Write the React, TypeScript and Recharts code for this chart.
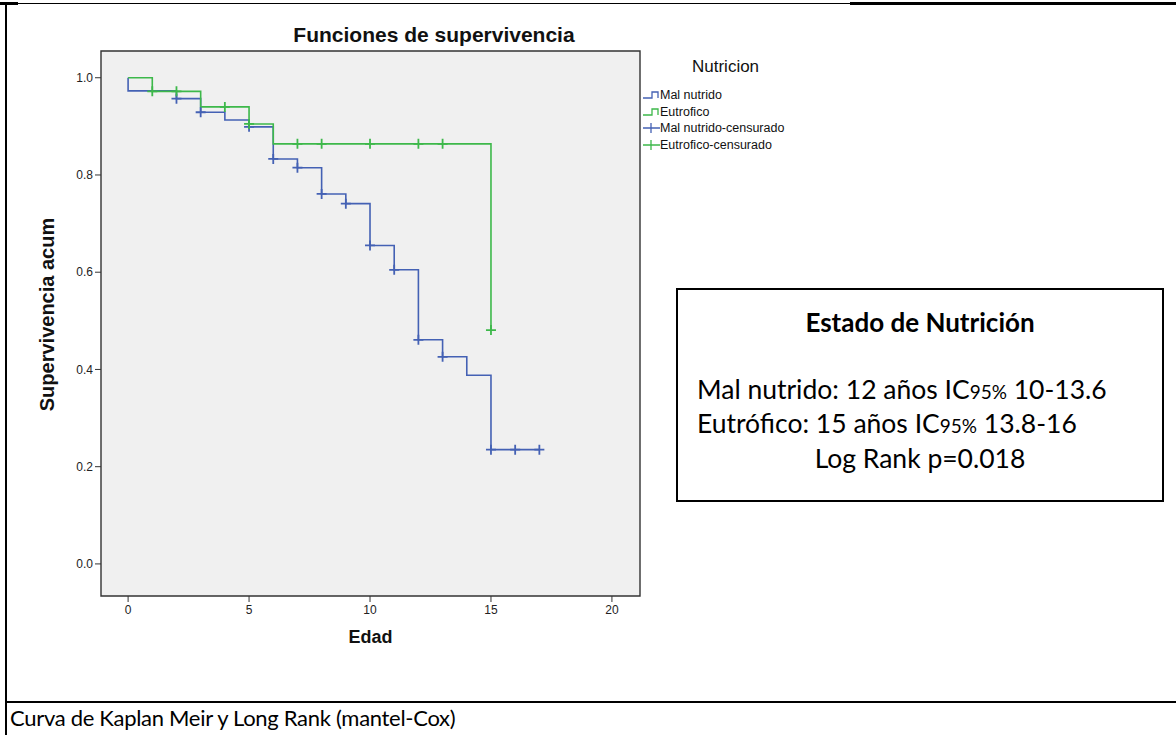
import { CartesianGrid, ComposedChart, Line, ReferenceArea, Scatter, XAxis, YAxis } from 'recharts'

// Kaplan-Meier steps (t = edad, s = supervivencia acumulada)
const malNutridoCurve = [
  { t: 0, s: 1 },
  { t: 0, s: 0.973 },
  { t: 2, s: 0.957 },
  { t: 3, s: 0.929 },
  { t: 4, s: 0.913 },
  { t: 5, s: 0.899 },
  { t: 6, s: 0.833 },
  { t: 7, s: 0.815 },
  { t: 8, s: 0.761 },
  { t: 9, s: 0.741 },
  { t: 10, s: 0.655 },
  { t: 11, s: 0.605 },
  { t: 12, s: 0.461 },
  { t: 13, s: 0.426 },
  { t: 14, s: 0.388 },
  { t: 15, s: 0.235 },
  { t: 17, s: 0.235 },
]

const eutroficoCurve = [
  { t: 0, s: 1 },
  { t: 1, s: 0.972 },
  { t: 3, s: 0.94 },
  { t: 5, s: 0.905 },
  { t: 6, s: 0.864 },
  { t: 15, s: 0.481 },
]

const malNutridoCensored = [
  { t: 2, s: 0.957 },
  { t: 3, s: 0.929 },
  { t: 5, s: 0.899 },
  { t: 6, s: 0.833 },
  { t: 7, s: 0.815 },
  { t: 8, s: 0.761 },
  { t: 9, s: 0.741 },
  { t: 10, s: 0.655 },
  { t: 11, s: 0.605 },
  { t: 12, s: 0.461 },
  { t: 13, s: 0.426 },
  { t: 15, s: 0.235 },
  { t: 16, s: 0.235 },
  { t: 17, s: 0.235 },
]

const eutroficoCensored = [
  { t: 1, s: 0.972 },
  { t: 2, s: 0.972 },
  { t: 4, s: 0.94 },
  { t: 5, s: 0.905 },
  { t: 7, s: 0.864 },
  { t: 8, s: 0.864 },
  { t: 10, s: 0.864 },
  { t: 12, s: 0.864 },
  { t: 13, s: 0.864 },
  { t: 15, s: 0.481 },
]

const xTicks = [0, 5, 10, 15, 20]
const yTicks = [0, 0.2, 0.4, 0.6, 0.8, 1]

const legendTitle = 'Nutricion'
const legendItems = [
  { name: 'Mal nutrido', kind: 'step', color: '#4461b4' },
  { name: 'Eutrofico', kind: 'step', color: '#3db84a' },
  { name: 'Mal nutrido-censurado', kind: 'cross', color: '#4461b4' },
  { name: 'Eutrofico-censurado', kind: 'cross', color: '#3db84a' },
]

const summaryTitle = 'Estado de Nutrición'
const summaryRows = [
  { label: 'Mal nutrido: 12 años IC', sub: '95%', rest: ' 10-13.6' },
  { label: 'Eutrófico: 15 años IC', sub: '95%', rest: ' 13.8-16' },
]
const summaryFooter = 'Log Rank p=0.018'
const caption = 'Curva de Kaplan Meir y Long Rank (mantel-Cox)'

const BLUE = '#4461b4'
const GREEN = '#3db84a'
const AXIS_FONT = '"Liberation Sans", Arial, sans-serif'
const DOC_FONT = 'Lato, "Open Sans", sans-serif'

function crossShape(color: string) {
  return (props: any) => {
    const { cx, cy } = props
    if (cx == null || cy == null) return <g />
    return (
      <path
        d={`M${cx - 5},${cy}H${cx + 5}M${cx},${cy - 5}V${cy + 5}`}
        stroke={color}
        strokeWidth={1.8}
        fill="none"
      />
    )
  }
}

function LegendIcon({ kind, color }: { kind: string; color: string }) {
  if (kind === 'step') {
    return (
      <svg width={18} height={14} style={{ display: 'block' }}>
        <path d="M1,10H10V4H16V10" stroke={color} strokeWidth={1.3} fill="none" />
      </svg>
    )
  }
  return (
    <svg width={18} height={14} style={{ display: 'block' }}>
      <path d="M1,7H18M9,2V12" stroke={color} strokeWidth={1.3} fill="none" />
    </svg>
  )
}

function YAxisTitle({ viewBox }: any) {
  const x = viewBox.x + 6
  const y = viewBox.y + viewBox.height / 2 - 9
  return (
    <text
      x={x}
      y={y}
      transform={`rotate(-90, ${x}, ${y})`}
      textAnchor="middle"
      dominantBaseline="central"
      fontFamily={AXIS_FONT}
      fontWeight="bold"
      fontSize={20}
      fill="#111"
    >
      Supervivencia acum
    </text>
  )
}

export default function App() {
  const tickStyle = { fontSize: 12, fontFamily: AXIS_FONT, fill: '#222' }

  return (
    <div style={{ position: 'absolute', left: 0, top: 0, width: 1176, height: 735, background: '#fff', overflow: 'hidden' }}>
      {/* document table lines */}
      <div style={{ position: 'absolute', left: 6, top: 3, width: 844, height: 1, background: '#000' }} />
      <div style={{ position: 'absolute', left: 850, top: 2, width: 326, height: 3, background: '#000' }} />
      <div style={{ position: 'absolute', left: 0, top: 2, width: 18, height: 3, background: '#000' }} />
      <div style={{ position: 'absolute', left: 5, top: 3, width: 2, height: 732, background: '#000' }} />
      <div style={{ position: 'absolute', left: 5, top: 701, width: 1171, height: 2, background: '#000' }} />

      <div
        style={{
          position: 'absolute',
          left: 234,
          width: 400,
          top: 23,
          textAlign: 'center',
          fontFamily: AXIS_FONT,
          fontWeight: 'bold',
          fontSize: 21,
          color: '#111',
        }}
      >
        Funciones de supervivencia
      </div>

      <div style={{ position: 'absolute', left: 0, top: 0 }}>
        <ComposedChart width={1176} height={735} margin={{ top: 51, right: 536, bottom: 99, left: 41 }}>
          <CartesianGrid fill="#f0f0f0" horizontal={false} vertical={false} />
          <XAxis
            type="number"
            dataKey="t"
            domain={[-1.12, 21.16]}
            ticks={xTicks}
            allowDataOverflow
            height={40}
            tickSize={6}
            tickMargin={3}
            axisLine={false}
            tickLine={{ stroke: '#333' }}
            tick={tickStyle}
            label={{ value: 'Edad', position: 'bottom', offset: -6, fontFamily: AXIS_FONT, fontWeight: 'bold', fontSize: 18, fill: '#111' }}
          />
          <YAxis
            type="number"
            dataKey="s"
            domain={[-0.066, 1.055]}
            ticks={yTicks}
            allowDataOverflow
            width={60}
            tickSize={6}
            tickMargin={2}
            axisLine={false}
            tickLine={{ stroke: '#333' }}
            tick={tickStyle}
            tickFormatter={(v: number) => v.toFixed(1)}
            label={{ content: YAxisTitle }}
          />
          <ReferenceArea x1={-1.12} x2={21.16} y1={-0.066} y2={1.055} fill="none" stroke="#333" strokeWidth={1.4} />
          <Line
            data={malNutridoCurve}
            dataKey="s"
            type="stepAfter"
            stroke={BLUE}
            strokeWidth={1.6}
            dot={false}
            activeDot={false}
            isAnimationActive={false}
          />
          <Line
            data={eutroficoCurve}
            dataKey="s"
            type="stepAfter"
            stroke={GREEN}
            strokeWidth={1.6}
            dot={false}
            activeDot={false}
            isAnimationActive={false}
          />
          <Scatter data={malNutridoCensored} shape={crossShape(BLUE)} isAnimationActive={false} />
          <Scatter data={eutroficoCensored} shape={crossShape(GREEN)} isAnimationActive={false} />
        </ComposedChart>
      </div>

      {/* legend */}
      <div style={{ position: 'absolute', left: 642, top: 57, fontFamily: AXIS_FONT, color: '#111' }}>
        <div style={{ fontSize: 17, marginLeft: 50, marginBottom: 10 }}>{legendTitle}</div>
        {legendItems.map((item) => (
          <div key={item.name} style={{ display: 'flex', alignItems: 'center', height: 16.5, fontSize: 12.5 }}>
            <LegendIcon kind={item.kind} color={item.color} />
            <span>{item.name}</span>
          </div>
        ))}
      </div>

      {/* summary box */}
      <div
        style={{
          position: 'absolute',
          left: 676,
          top: 288,
          width: 488,
          height: 214,
          boxSizing: 'border-box',
          border: '2px solid #000',
          fontFamily: DOC_FONT,
          color: '#000',
        }}
      >
        <div style={{ position: 'absolute', left: 0, right: 0, top: 16, textAlign: 'center', fontWeight: 'bold', fontSize: 26 }}>
          {summaryTitle}
        </div>
        {summaryRows.map((row, i) => (
          <div key={row.label} style={{ position: 'absolute', left: 19, top: 83 + i * 34, fontSize: 26.5, whiteSpace: 'nowrap' }}>
            {row.label}
            <span style={{ fontSize: 19 }}>{row.sub}</span>
            {row.rest}
          </div>
        ))}
        <div style={{ position: 'absolute', left: 0, right: 0, top: 152, textAlign: 'center', fontSize: 26.5 }}>{summaryFooter}</div>
      </div>

      <div
        style={{
          position: 'absolute',
          left: 10,
          top: 704,
          fontFamily: DOC_FONT,
          fontSize: 22,
          letterSpacing: -0.3,
          color: '#000',
          whiteSpace: 'nowrap',
        }}
      >
        {caption}
      </div>
    </div>
  )
}
